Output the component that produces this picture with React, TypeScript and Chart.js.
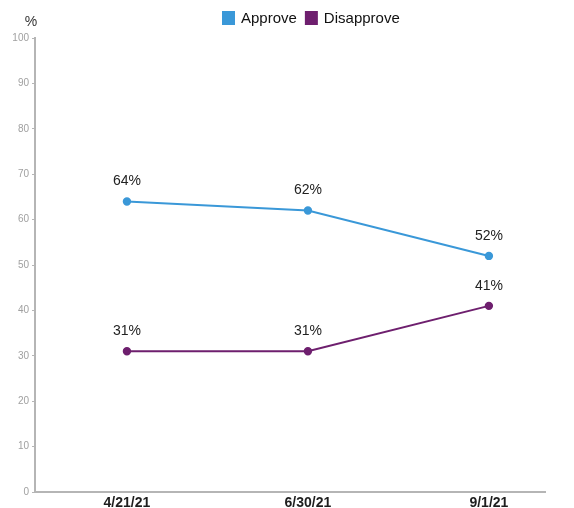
import React, { useEffect, useRef } from "react";
import { Chart, registerables } from "chart.js";
Chart.register(...registerables);

const categories = ["4/21/21", "6/30/21", "9/1/21"];
const approve = [64, 62, 52];
const disapprove = [31, 31, 41];
const yTicks = [0, 10, 20, 30, 40, 50, 60, 70, 80, 90, 100];

const FONT = "'Liberation Sans', Arial, sans-serif";

const labelsPlugin = {
  id: "pctLabels",
  afterDatasetsDraw(chart: any) {
    const ctx = chart.ctx;
    ctx.save();
    ctx.font = `14px ${FONT}`;
    ctx.fillStyle = "#222";
    ctx.textAlign = "center";
    ctx.textBaseline = "middle";
    chart.data.datasets.forEach((ds: any, i: number) => {
      const meta = chart.getDatasetMeta(i);
      meta.data.forEach((pt: any, j: number) => {
        ctx.fillText(ds.data[j].y + "%", pt.x, pt.y - 20);
      });
    });
    // "%" axis title
    ctx.font = `14px ${FONT}`;
    ctx.fillStyle = "#333";
    ctx.fillText("%", 31, 22);
    // legend
    ctx.font = `15px ${FONT}`;
    ctx.textAlign = "left";
    let x = 222;
    chart.data.datasets.forEach((ds: any) => {
      ctx.fillStyle = ds.borderColor;
      ctx.fillRect(x, 11, 13, 14);
      ctx.fillStyle = "#111";
      ctx.fillText(ds.label, x + 19, 18.5);
      x += 19 + ctx.measureText(ds.label).width + 8;
    });
    ctx.restore();
  },
};

export default function App() {
  const ref = useRef<HTMLCanvasElement>(null);
  useEffect(() => {
    const toPts = (arr: number[]) => arr.map((v, i) => ({ x: i, y: v }));
    const chart = new Chart(ref.current!, {
      type: "line",
      data: {
        datasets: [
          {
            label: "Approve",
            data: toPts(approve),
            borderColor: "#3a98d8",
            backgroundColor: "#3a98d8",
            borderWidth: 2,
            pointRadius: 3.2,
            pointBackgroundColor: "#3a98d8",
          },
          {
            label: "Disapprove",
            data: toPts(disapprove),
            borderColor: "#6e1f6e",
            backgroundColor: "#6e1f6e",
            borderWidth: 2,
            pointRadius: 3.2,
            pointBackgroundColor: "#6e1f6e",
          },
        ],
      },
      options: {
        responsive: true,
        maintainAspectRatio: false,
        animation: false,
        layout: { padding: { left: 0, right: 29, top: 38, bottom: 0 } },
        plugins: {
          tooltip: { enabled: false },
          legend: { display: false },
        },
        scales: {
          x: {
            type: "linear",
            min: -0.508,
            max: 2.31,
            afterBuildTicks: (scale: any) => {
              scale.ticks = categories.map((_, i) => ({ value: i }));
            },
            afterFit: (scale: any) => {
              scale.height = 16;
            },
            grid: { display: false, drawTicks: false },
            border: { display: true, color: "#b5b5b5", width: 2 },
            ticks: {
              autoSkip: false,
              maxRotation: 0,
              padding: 3,
              color: "#1e1e1e",
              font: { family: FONT, size: 14, weight: "bold" },
              callback: (v: any) => categories[v] ?? "",
            },
          },
          y: {
            min: 0,
            max: 100,
            afterBuildTicks: (scale: any) => {
              scale.ticks = yTicks.map((v) => ({ value: v }));
            },
            afterFit: (scale: any) => {
              scale.width = 35;
            },
            grid: { display: true, drawOnChartArea: false, drawTicks: true, tickLength: 3, color: "#b5b5b5" },
            border: { display: true, color: "#b5b5b5", width: 2 },
            ticks: {
              padding: 3,
              color: "#a0a0a0",
              font: { family: FONT, size: 10 },
            },
          },
        },
      },
      plugins: [labelsPlugin],
    });
    return () => chart.destroy();
  }, []);
  return (
    <div style={{ position: "fixed", left: 0, top: 0, width: 574, height: 508, background: "#fff" }}>
      <canvas ref={ref} />
    </div>
  );
}
